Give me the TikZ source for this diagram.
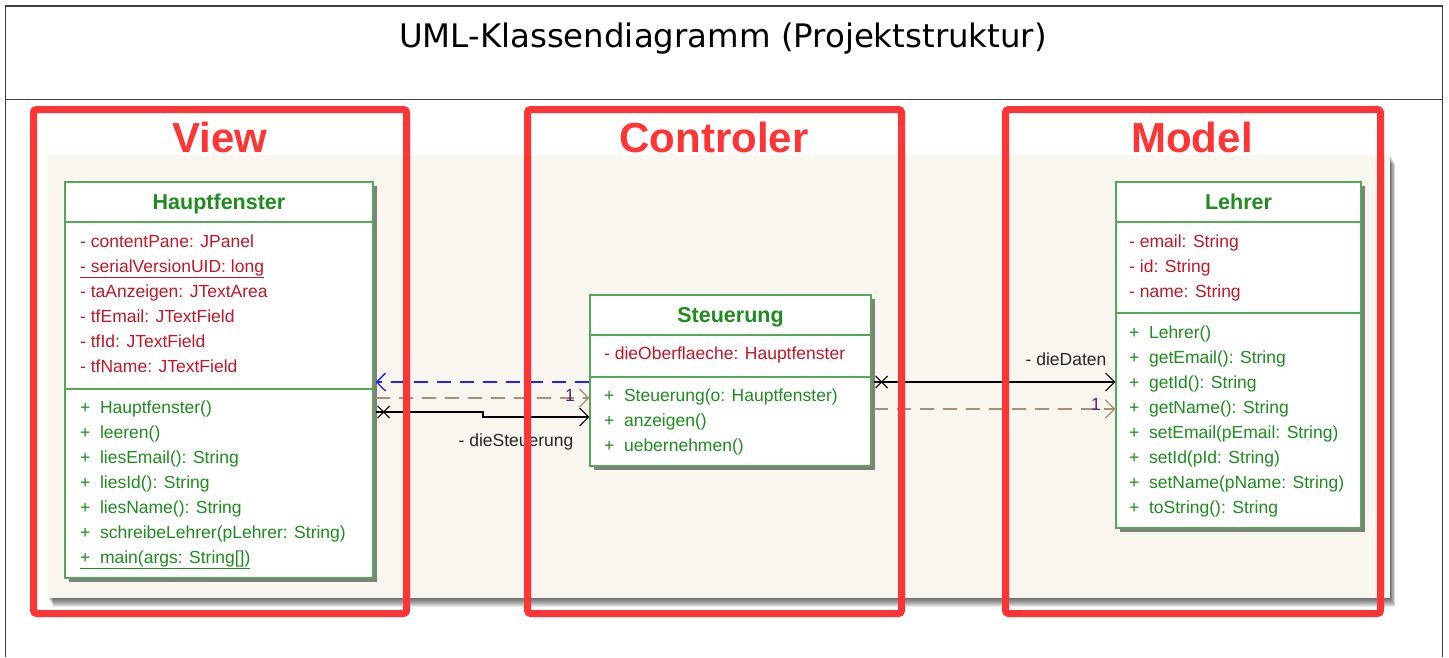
\documentclass[tikz,border=0pt]{standalone}
\usepackage{fontspec}
\setmainfont{Liberation Sans}
\newfontfamily\titlefont{DejaVu Sans}
\usetikzlibrary{arrows.meta,shadows,calc}

\definecolor{umlgreen}{HTML}{1E8C1E}
\definecolor{umlborder}{HTML}{55A855}
\definecolor{umlred}{HTML}{C01828}
\definecolor{panelbg}{HTML}{F8F6EF}
\definecolor{markred}{HTML}{FF3434}
\definecolor{depbrown}{HTML}{A89070}
\definecolor{usesblue}{HTML}{2222FF}
\definecolor{multcol}{HTML}{552266}

\tikzset{
  classbox/.style={draw=umlborder, line width=1.3pt, fill=white, inner sep=0pt,
    drop shadow={shadow xshift=4pt, shadow yshift=-4pt, fill=black!65, opacity=0.75}},
  sepline/.style={draw=umlborder, line width=1.3pt},
  classname/.style={font=\fontsize{21.5}{24}\selectfont\bfseries, text=umlgreen, anchor=base, inner sep=0pt},
  attr/.style={font=\fontsize{17.5}{20}\selectfont, text=umlred, anchor=base west, inner sep=0pt},
  meth/.style={font=\fontsize{17.5}{20}\selectfont, text=umlgreen, anchor=base west, inner sep=0pt},
  layerbox/.style={draw=markred, line width=7pt, rounded corners=3pt},
  layername/.style={font=\fontsize{42}{46}\selectfont\bfseries, text=markred},
  navarrow/.style={draw=black, line width=1.1pt, -{Straight Barb[length=9pt,width=18pt,line width=1.1pt]}},
  deparrow/.style={draw=depbrown, line width=1.3pt, dash pattern=on 14pt off 9pt,
    -{Straight Barb[length=9pt,width=18pt,line width=1.3pt]}},
  usearrow/.style={draw=usesblue, line width=1.3pt, dash pattern=on 14pt off 9pt,
    -{Straight Barb[length=9pt,width=18pt,line width=1.3pt]}},
  crossend/.style={draw=black, line width=1.1pt},
  assoclabel/.style={font=\fontsize{17.5}{20}\selectfont, text=black!85, anchor=base, inner sep=0pt},
  multlabel/.style={font=\fontsize{17.5}{20}\selectfont, text=multcol, anchor=base, inner sep=0pt},
}

\newcommand{\plusm}[1]{+\hspace{0.55em}#1}

\begin{document}
\begin{tikzpicture}[x=1pt,y=-1pt]
\useasboundingbox (0,0) rectangle (1449,657);

% outer frame with title row
\draw[draw=black!75, line width=1.6pt] (5.5,657) -- (5.5,6) -- (1442.5,6) -- (1442.5,657);
\draw[draw=black!75, line width=1.4pt] (5.5,99.5) -- (1442.5,99.5);
\node[font=\titlefont\fontsize{32.4}{36}\selectfont, text=black, anchor=base] (title) at (723,47) {UML-Klassendiagramm (Projektstruktur)};

% diagram canvas with a soft shadow along its lower and right edges
\foreach \k in {1,...,9}
  \fill[black, opacity=0.085] (48+0.6*\k,155+\k) rectangle (1390+0.6*\k,598+\k);
\node[draw=none, fill=panelbg, minimum width=1342pt, minimum height=443pt, inner sep=0pt]
  (canvas) at (719,376.5) {};

% ---------- class Hauptfenster ----------
\node[classbox, minimum width=308pt, minimum height=396pt] (hf) at (219,380) {};
\draw[sepline] (65,222) -- (373,222);
\draw[sepline] (65,389) -- (373,389);
\node[classname] (hfname) at (219,209) {Hauptfenster};
\node[attr] (hfa1) at (80,247) {- contentPane: JPanel};
\node[attr] (hfa2) at (80,272) {\underline{- serialVersionUID: long}};
\node[attr] (hfa3) at (80,297) {- taAnzeigen: JTextArea};
\node[attr] (hfa4) at (80,322) {- tfEmail: JTextField};
\node[attr] (hfa5) at (80,347) {- tfId: JTextField};
\node[attr] (hfa6) at (80,372) {- tfName: JTextField};
\node[meth] (hfm1) at (80,413) {\plusm{Hauptfenster()}};
\node[meth] (hfm2) at (80,438) {\plusm{leeren()}};
\node[meth] (hfm3) at (80,463) {\plusm{liesEmail(): String}};
\node[meth] (hfm4) at (80,488) {\plusm{liesId(): String}};
\node[meth] (hfm5) at (80,513) {\plusm{liesName(): String}};
\node[meth] (hfm6) at (80,538) {\plusm{schreibeLehrer(pLehrer: String)}};
\node[meth] (hfm7) at (80,563) {\underline{\plusm{main(args: String[])}}};

% ---------- class Steuerung ----------
\node[classbox, minimum width=281pt, minimum height=171pt] (st) at (730.5,380.5) {};
\draw[sepline] (590,335) -- (871,335);
\draw[sepline] (590,377) -- (871,377);
\node[classname] (stname) at (730.5,322.5) {Steuerung};
\node[attr] (sta1) at (604,359) {- dieOberflaeche: Hauptfenster};
\node[meth] (stm1) at (604,401) {\plusm{Steuerung(o: Hauptfenster)}};
\node[meth] (stm2) at (604,426) {\plusm{anzeigen()}};
\node[meth] (stm3) at (604,451) {\plusm{uebernehmen()}};

% ---------- class Lehrer ----------
\node[classbox, minimum width=245pt, minimum height=346pt] (le) at (1238.5,355) {};
\draw[sepline] (1116,222) -- (1361,222);
\draw[sepline] (1116,313) -- (1361,313);
\node[classname] (lename) at (1238.5,209) {Lehrer};
\node[attr] (lea1) at (1129,247) {- email: String};
\node[attr] (lea2) at (1129,272) {- id: String};
\node[attr] (lea3) at (1129,297) {- name: String};
\node[meth] (lem1) at (1129,338) {\plusm{Lehrer()}};
\node[meth] (lem2) at (1129,363) {\plusm{getEmail(): String}};
\node[meth] (lem3) at (1129,388) {\plusm{getId(): String}};
\node[meth] (lem4) at (1129,413) {\plusm{getName(): String}};
\node[meth] (lem5) at (1129,438) {\plusm{setEmail(pEmail: String)}};
\node[meth] (lem6) at (1129,463) {\plusm{setId(pId: String)}};
\node[meth] (lem7) at (1129,488) {\plusm{setName(pName: String)}};
\node[meth] (lem8) at (1129,513) {\plusm{toString(): String}};

% ---------- connector end points ----------
\coordinate (hfUse)  at (hf.east |- 0,382);
\coordinate (stUse)  at (st.west |- 0,382);
\coordinate (hfDep)  at ($(hf.east |- 0,398)+(2,0)$);
\coordinate (stDep)  at (st.west |- 0,398);
\coordinate (hfNav)  at ($(hf.east |- 0,412)+(2,0)$);
\coordinate (navBend) at (483,412);
\coordinate (stNav)  at (st.west |- 0,417);
\coordinate (stNavR) at ($(st.east |- 0,382)+(2,0)$);
\coordinate (leNav)  at (le.west |- 0,382);
\coordinate (stDepR) at ($(st.east |- 0,409)+(2,0)$);
\coordinate (leDep)  at (le.west |- 0,409);

% Steuerung uses Hauptfenster
\draw[usearrow] (stUse) -- ($(hfUse)+(2,0)$);
% Hauptfenster depends on Steuerung
\draw[deparrow] (hfDep) -- (stDep);
\node[multlabel] (m1) at (570,401) {1};
% association dieSteuerung
\draw[navarrow] (hfNav) -- (navBend) -- (navBend |- stNav) -- (stNav);
\draw[crossend] ($(hfNav)+(2,-6)$) -- ($(hfNav)+(14,6)$);
\draw[crossend] ($(hfNav)+(2,6)$) -- ($(hfNav)+(14,-6)$);
\node[assoclabel] (l1) at (516,446) {- dieSteuerung};
% association dieDaten
\draw[navarrow] (stNavR) -- (leNav);
\draw[crossend] ($(stNavR)+(2,-6)$) -- ($(stNavR)+(14,6)$);
\draw[crossend] ($(stNavR)+(2,6)$) -- ($(stNavR)+(14,-6)$);
\node[assoclabel] (l2) at (1066,365) {- dieDaten};
% Steuerung depends on Lehrer
\draw[deparrow] (stDepR) -- (leDep);
\node[multlabel] (m2) at (1096,410) {1};

% ---------- layer frames ----------
\draw[layerbox] (33.5,109.5) rectangle (406.5,613.5);
\draw[layerbox] (527.5,109.5) rectangle (901.5,613.5);
\draw[layerbox] (1005.5,109.5) rectangle (1380.5,613.5);
\node[layername] (lview) at (220,137) {View};
\node[layername] (lctrl) at (714,137) {Controler};
\node[layername] (lmodel) at (1192,137) {Model};
\end{tikzpicture}
\end{document}
